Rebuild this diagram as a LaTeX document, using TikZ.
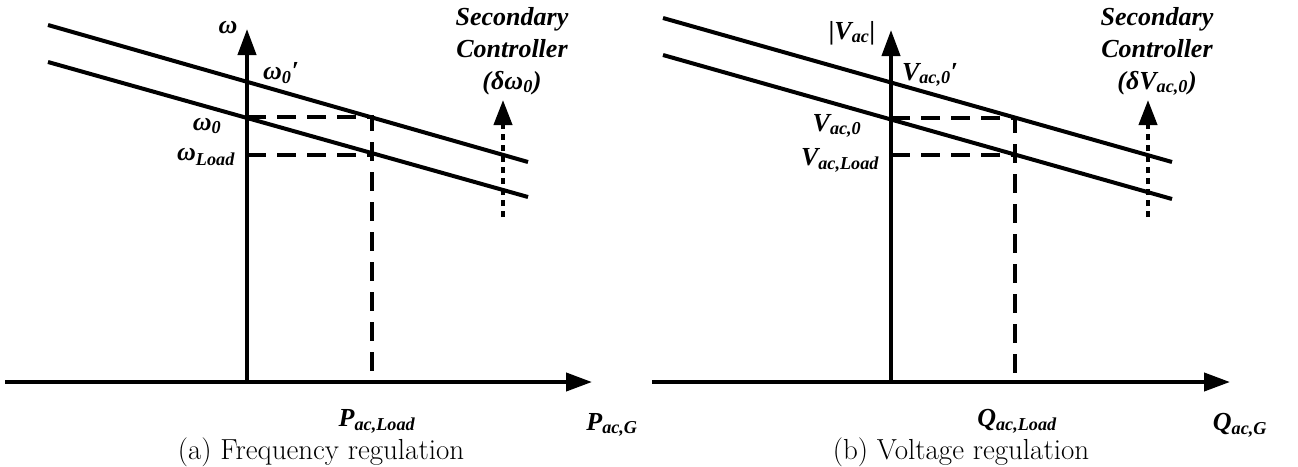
\documentclass[tikz,border=0pt]{standalone}
\usepackage{fontspec}
\newfontfamily\tnr{Liberation Serif}
\usetikzlibrary{arrows.meta,positioning,calc}
\tikzset{
  curve/.style ={line width=4pt},
  axis/.style  ={line width=4pt, -{Triangle[length=26pt,width=18pt]}},
  guide/.style ={line width=3.2pt, dash pattern=on 19pt off 11pt},
  shiftar/.style={line width=4pt, dash pattern=on 6pt off 5pt, -{Triangle[length=25pt,width=18pt]}},
  lbl/.style   ={font=\fontsize{26}{32}\selectfont\tnr\bfseries\itshape, inner sep=0pt, align=center},
  captxt/.style={font=\fontsize{29}{33}\selectfont, inner sep=0pt},
}
\newcommand{\sbs}[1]{\textsubscript{#1}}

\begin{document}
\begin{tikzpicture}[x=1pt, y=-1pt]
\useasboundingbox (0,0) rectangle (1298,466);

% (a) frequency droop
\coordinate (xa0) at (5,382);   \coordinate (xa1) at (592,382);
\coordinate (oa)  at (247,382); \coordinate (ya1) at (247,29);
\coordinate (ua0) at (48,25);   \coordinate (ua1) at (528,162);
\coordinate (la0) at (48,62);   \coordinate (la1) at (528,197);
\coordinate (wz)  at (247,117); \coordinate (wl)  at (247,155);
\coordinate (pu)  at (372,117); \coordinate (pd)  at (372,155);
\coordinate (pa)  at (372,382);
\coordinate (sa0) at (503,217); \coordinate (sa1) at (503,100);

\draw[axis] (xa0) -- (xa1);
\draw[axis] (oa) -- (ya1);
\draw[curve] (ua0) -- (ua1);
\draw[curve] (la0) -- (la1);
\draw[guide] (wz) -- (pu) -- (pa);
\draw[guide] (wl) -- (pd);
\draw[shiftar] (sa0) -- (sa1);

\node[lbl] (wax)  at (228,28)  {ω};
\node[lbl] (w0p)  at (281,73)  {ω\sbs{0}′};
\node[lbl] (w0)   at (207,126) {ω\sbs{0}};
\node[lbl] (wld)  at (206,157) {ω\sbs{Load}};
\node[lbl, anchor=north] (seca) at (512,7) {Secondary\\Controller\\(δω\sbs{0})};
\node[lbl] (pld)  at (377,421) {P\sbs{ac,Load}};
\node[lbl] (pg)   at (612,425) {P\sbs{ac,G}};
\node[captxt] (capa) at (321,452) {(a) Frequency regulation};

% (b) voltage droop
\coordinate (xb0) at (652,382);  \coordinate (xb1) at (1230,382);
\coordinate (ob)  at (891,382);  \coordinate (yb1) at (891,30);
\coordinate (ub0) at (663,18);   \coordinate (ub1) at (1172,162);
\coordinate (lb0) at (663,55);   \coordinate (lb1) at (1172,199);
\coordinate (vz)  at (891,118);  \coordinate (vl)  at (891,155);
\coordinate (qu)  at (1015,118); \coordinate (qd)  at (1015,155);
\coordinate (qa)  at (1015,382);
\coordinate (sb0) at (1148,217); \coordinate (sb1) at (1148,100);

\draw[axis] (xb0) -- (xb1);
\draw[axis] (ob) -- (yb1);
\draw[curve] (ub0) -- (ub1);
\draw[curve] (lb0) -- (lb1);
\draw[guide] (vz) -- (qu) -- (qa);
\draw[guide] (vl) -- (qd);
\draw[shiftar] (sb0) -- (sb1);

\node[lbl] (vax)  at (852,33)  {|V\sbs{ac}|};
\node[lbl] (v0p)  at (930,75)  {V\sbs{ac,0}′};
\node[lbl] (v0)   at (837,126) {V\sbs{ac,0}};
\node[lbl] (vld)  at (840,160) {V\sbs{ac,Load}};
\node[lbl, anchor=north] (secb) at (1157,7) {Secondary\\Controller\\(δV\sbs{ac,0})};
\node[lbl] (qld)  at (1017,421) {Q\sbs{ac,Load}};
\node[lbl] (qg)   at (1240,425) {Q\sbs{ac,G}};
\node[captxt] (capb) at (961,452) {(b) Voltage regulation};
\end{tikzpicture}
\end{document}
